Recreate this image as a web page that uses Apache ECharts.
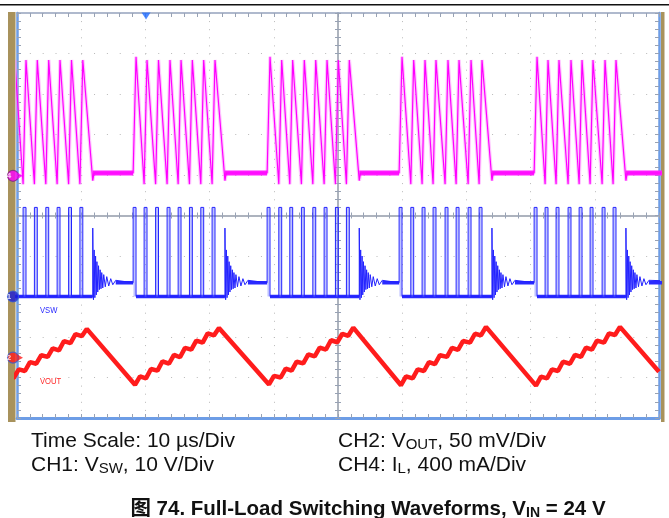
<!DOCTYPE html>
<html>
<head>
<meta charset="utf-8">
<script src="https://cdn.jsdelivr.net/npm/echarts@6/dist/echarts.min.js"></script>
<style>
  html, body { margin: 0; padding: 0; background: #fff; }
  #chart { width: 669px; height: 518px; }
</style>
</head>
<body>
<div id="chart"></div>
<script>
// time in µs (10 µs/div, 0 = screen centre), amplitude in divisions (0 = centre line)

// switching instants = inductor-current peaks, one list per burst
const burst1 = [-52.10, -50.34, -48.60, -46.84, -45.06, -43.30, -41.51, -39.75]
const burst2 = [-31.46, -29.75, -27.96, -26.17, -24.45, -22.69, -20.92, -19.16]
const burst3 = [-10.59, -8.77, -7.06, -5.25, -3.47, -1.71, 0.05, 1.76]
const burst4 = [9.97, 11.79, 13.55, 15.26, 17.13, 18.85, 20.72, 22.43]
const burst5 = [31.00, 32.71, 34.42, 36.29, 38.01, 39.72, 41.59, 43.30]
const bursts = [burst1, burst2, burst3, burst4, burst5]

const tOn       = 0.45   // high-side on time
const ringDelay = 1.55   // last pulse -> DCM ringing starts

// CH4 inductor current levels
const ilPeakFirst = 3.92
const ilPeak      = 3.84
const ilValley    = 0.77
const ilEnd       = 0.86
const ilIdle      = 1.05

// CH1 switch node levels
const swHigh = 0.20
const swLow  = -2.00
const swIdle = -1.66

// DCM ringing after each burst (offset µs, level div)
const ringT = [0, 0.11, 0.22, 0.33, 0.44, 0.55, 0.65, 0.78, 0.90, 1.03, 1.15, 1.28, 1.40, 1.56, 1.71, 1.95, 2.18, 2.49, 2.80, 3.12, 3.58]
const ringV = [-0.31, -2.08, -0.85, -2.03, -1.00, -1.96, -1.14, -1.89, -1.24, -1.83, -1.34, -1.81, -1.41, -1.79, -1.46, -1.76, -1.51, -1.74, -1.56, -1.71, -1.60]

// CH2 output voltage ripple vertices
const voutT = [
  -52.26, -51.48, -50.50, -49.72, -48.76, -47.98, -47.00, -46.22, -45.22, -44.44, -43.46, -42.68, -41.67, -40.89, -39.91, -39.13,
  -31.62, -30.84, -29.91, -29.13, -28.12, -27.34, -26.33, -25.55, -24.61, -23.83, -22.85, -22.07, -21.08, -20.30, -19.32, -18.54,
  -10.75, -9.97, -8.93, -8.15, -7.22, -6.44, -5.41, -4.63, -3.63, -2.85, -1.87, -1.09, -0.11, 0.67, 1.60, 2.38,
  9.81, 10.59, 11.63, 12.41, 13.39, 14.17, 15.10, 15.88, 16.97, 17.75, 18.69, 19.47, 20.56, 21.34, 22.27, 23.05,
  30.84, 31.62, 32.55, 33.33, 34.26, 35.04, 36.13, 36.91, 37.85, 38.63, 39.56, 40.34, 41.43, 42.21, 43.14, 43.92,
  50.00
]
const voutV = [
  -4.18, -3.96, -4.01, -3.80, -3.84, -3.62, -3.66, -3.45, -3.49, -3.28, -3.33, -3.10, -3.15, -2.93, -2.98, -2.80,
  -4.18, -3.97, -4.02, -3.79, -3.83, -3.60, -3.66, -3.44, -3.50, -3.27, -3.31, -3.09, -3.14, -2.91, -2.96, -2.78,
  -4.17, -3.96, -4.00, -3.78, -3.83, -3.61, -3.65, -3.43, -3.48, -3.26, -3.31, -3.08, -3.13, -2.92, -2.97, -2.77,
  -4.19, -3.97, -4.02, -3.80, -3.84, -3.62, -3.67, -3.45, -3.49, -3.27, -3.32, -3.10, -3.14, -2.92, -2.96, -2.75,
  -4.20, -3.98, -4.02, -3.80, -3.84, -3.61, -3.66, -3.44, -3.49, -3.26, -3.31, -3.09, -3.14, -2.91, -2.95, -2.75,
  -3.86
]

// channel reference markers
const chNames  = ['4', '1', '2']
const chLevels = [0.98, -2.00, -3.51]
const chColors = ['#ff00ff', '#1a1ad8', '#ff1c1c']
const triggerT = -29.9

const font = '"Liberation Sans", Arial, "Noto Sans CJK SC", sans-serif'
const GAP = '-'

// ─── build traces from the burst lists ─────────────────────────
const ilLine = [], ilIdleBand = []
const swLine = [], swBand = [], swFill = []
ilIdleBand.push([-60, ilIdle])
swBand.push([-60, swIdle])
bursts.forEach((b) => {
  const first = b[0]
  const last  = b[b.length - 1]
  const tr    = last + ringDelay
  ilIdleBand.push([first - tOn, ilIdle], GAP)
  swBand.push([first - tOn, swIdle], GAP, [first, swLow], [tr, swLow], GAP)

  b.forEach((t, k) => {
    ilLine.push([t - tOn, k === 0 ? ilIdle : ilValley], [t, k === 0 ? ilPeakFirst : ilPeak])
    swLine.push([t - tOn, k === 0 ? swIdle : swLow], [t - tOn, swHigh], [t, swHigh], [t, swLow])
    swFill.push([t - tOn / 2, swLow], [t - tOn / 2, swHigh], GAP)
  })
  ilLine.push([tr, ilEnd], [tr + 0.2, ilIdle])
  ilIdleBand.push([tr, ilIdle])
  swLine.push([tr, swLow])
  ringT.forEach((dt, i) => swLine.push([tr + dt, ringV[i]]))
  swBand.push([tr + ringT[ringT.length - 1], swIdle])
})
ilLine.push([60, ilIdle])
ilIdleBand.push([60, ilIdle])
swLine.push([60, swIdle])
swBand.push([60, swIdle])

const vout = voutT.map((t, i) => [t, voutV[i]])

// ─── axes: border frame, centre cross, dotted graticule ──────
const tickGray = '#98a2b4'
const frameBlue = '#6d9de6'
const xBase = { type: 'value', min: -50, max: 50, interval: 10, axisLabel: { show: false }, splitLine: { show: false } }
const yBase = { type: 'value', min: -5, max: 5, interval: 1, axisLabel: { show: false }, splitLine: { show: false } }
const minor = (len) => ({ show: true, splitNumber: 5, length: len, lineStyle: { color: tickGray, width: 1 } })

const xAxes = [
  { ...xBase, position: 'bottom',
    axisLine: { onZero: false, lineStyle: { color: frameBlue, width: 3 } },
    axisTick: { inside: true, length: 4, lineStyle: { color: tickGray } }, minorTick: minor(4),
    splitLine: { show: true, lineStyle: { color: '#b9b9b9', width: 1, type: [1, 7.1] } } },
  { ...xBase, position: 'top',
    axisLine: { onZero: false, lineStyle: { color: '#95a3bd', width: 1.5 } },
    axisTick: { inside: true, length: 4, lineStyle: { color: tickGray } }, minorTick: minor(4) },
  { ...xBase, position: 'bottom',
    axisLine: { onZero: true, onZeroAxisIndex: 0, lineStyle: { color: '#a8afba', width: 1.5 } },
    axisTick: { inside: false, length: 3, lineStyle: { color: tickGray } }, minorTick: minor(3) },
  { ...xBase, position: 'bottom',
    axisLine: { onZero: true, onZeroAxisIndex: 0, lineStyle: { color: '#a8afba', width: 1.5 } },
    axisTick: { inside: true, length: 3, lineStyle: { color: tickGray } }, minorTick: minor(3) },
]
const yAxes = [
  { ...yBase, position: 'left',
    axisLine: { onZero: false, lineStyle: { color: frameBlue, width: 2.5 } },
    axisTick: { inside: true, length: 4, lineStyle: { color: tickGray } }, minorTick: minor(4),
    splitLine: { show: true, lineStyle: { color: '#b9b9b9', width: 1, type: [1, 11.84] } } },
  { ...yBase, position: 'right',
    axisLine: { onZero: false, lineStyle: { color: frameBlue, width: 2.5 } },
    axisTick: { inside: true, length: 4, lineStyle: { color: tickGray } }, minorTick: minor(4) },
  { ...yBase, position: 'left',
    axisLine: { onZero: true, onZeroAxisIndex: 0, lineStyle: { color: '#a8afba', width: 1.5 } },
    axisTick: { inside: false, length: 3, lineStyle: { color: tickGray } }, minorTick: minor(3) },
  { ...yBase, position: 'left',
    axisLine: { onZero: true, onZeroAxisIndex: 0, lineStyle: { color: '#a8afba', width: 1.5 } },
    axisTick: { inside: true, length: 3, lineStyle: { color: tickGray } }, minorTick: minor(3) },
]

const trace = (data, color, width, extra) => ({
  type: 'line', data, showSymbol: false, symbol: 'none', silent: true,
  xAxisIndex: 0, yAxisIndex: 0, connectNulls: false,
  lineStyle: { color, width }, ...extra,
})

// caption rich-text styles: normal + lowered subscript
const capRich = {
  n: { fontSize: 21, lineHeight: 24, verticalAlign: 'bottom', fontFamily: font, fill: '#111' },
  s: { fontSize: 15, lineHeight: 10, verticalAlign: 'bottom', fontFamily: font, fill: '#111' },
}
const titleRich = {
  b: { fontSize: 20.5, lineHeight: 23, verticalAlign: 'bottom', fontWeight: 'bold', fontFamily: font, fill: '#111' },
  s: { fontSize: 14, lineHeight: 9, verticalAlign: 'bottom', fontWeight: 'bold', fontFamily: font, fill: '#111' },
}

const chart = echarts.init(document.getElementById('chart'))
chart.setOption({
  animation: false,
  backgroundColor: '#fff',
  grid: { left: 17, right: 10, top: 13, bottom: 100 },
  xAxis: xAxes,
  yAxis: yAxes,
  series: [
    trace(vout, '#ff1c1c', 4.5),
    trace(swBand, '#2a2aff', 3.5),
    trace(swFill, 'rgba(110,120,255,0.45)', 2.2),
    trace(swLine, '#2222ff', 1),
    trace(ilLine, 'rgba(255,130,255,0.45)', 3.5),
    trace(ilIdleBand, '#ff1aff', 5),
    trace(ilLine, '#ff00ff', 1.2),
    {
      type: 'scatter', clip: false, silent: true, z: 5,
      data: chNames.map((n, i) => ({
        value: [-50, chLevels[i]],
        itemStyle: { color: chColors[i], borderColor: i === 0 ? '#7a2a7a' : '#3a5fd0', borderWidth: 1.2 },
        label: { show: true, formatter: n },
      })),
      symbol: 'circle', symbolSize: 11, symbolOffset: [-4, 0],
      label: { position: 'inside', offset: [-4, 0], color: '#fff', fontSize: 8, fontWeight: 'bold', fontFamily: font },
    },
    {
      type: 'scatter', clip: false, silent: true, z: 5,
      data: [
        { value: [-50, chLevels[0]], itemStyle: { color: chColors[0] } },
        { value: [-50, chLevels[2]], itemStyle: { color: chColors[2] } },
      ],
      symbol: 'arrow', symbolRotate: -90, symbolSize: [5, 6], symbolOffset: [6, 0],
    },
    {
      type: 'scatter', clip: false, silent: true, z: 5,
      data: [[triggerT, 5]],
      symbol: 'triangle', symbolRotate: 180, symbolSize: [9, 7], symbolOffset: [0, 3],
      itemStyle: { color: '#1f6cff' },
    },
  ],
  graphic: [
    { type: 'rect', shape: { x: 0, y: 4, width: 669, height: 1.5 }, style: { fill: '#111' } },
    { type: 'rect', shape: { x: 8, y: 12, width: 7.5, height: 410 }, style: { fill: '#a8925c' } },
    { type: 'rect', shape: { x: 661, y: 12, width: 3.5, height: 410 }, style: { fill: '#a8925c' } },
    { type: 'text', x: 40, y: 306, scaleX: 0.85,
      style: { text: 'VSW', font: '9px ' + font, fill: '#2a2aff' } },
    { type: 'text', x: 40, y: 377, scaleX: 0.85,
      style: { text: 'VOUT', font: '9px ' + font, fill: '#ff2a2a' } },
    { type: 'text', x: 31, y: 428, style: { text: '{n|Time Scale: 10 µs/Div}', rich: capRich } },
    { type: 'text', x: 31, y: 452, style: { text: '{n|CH1: V}{s|SW}{n|, 10 V/Div}', rich: capRich } },
    { type: 'text', x: 338, y: 428, style: { text: '{n|CH2: V}{s|OUT}{n|, 50 mV/Div}', rich: capRich } },
    { type: 'text', x: 338, y: 452, style: { text: '{n|CH4: I}{s|L}{n|, 400 mA/Div}', rich: capRich } },
    { type: 'text', x: 368, y: 497,
      style: { text: '{b|图 74. Full-Load Switching Waveforms, V}{s|IN}{b| = 24 V}', align: 'center', rich: titleRich } },
  ],
})
</script>
</body>
</html>
